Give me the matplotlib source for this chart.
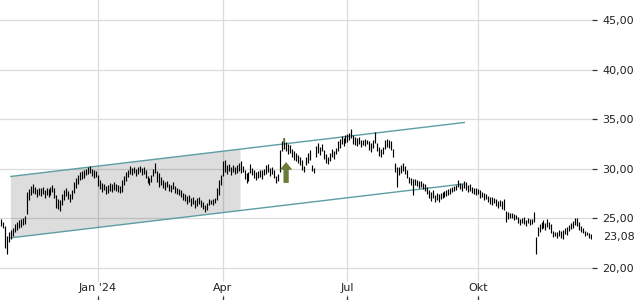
import numpy as np
import pandas as pd
import matplotlib
matplotlib.use("Agg")
import matplotlib.pyplot as plt
import matplotlib.transforms as mtransforms
from matplotlib.ticker import FuncFormatter

# ---------------- data ----------------
start_date = "2023-10-20"
holidays = ["2023-12-25", "2023-12-26", "2024-01-01", "2024-03-29", "2024-04-01",
            "2024-05-01", "2024-12-24", "2024-12-25", "2024-12-26", "2024-12-31"]

lows = [24.2, 24.0, 22.0, 21.4, 22.6, 22.9, 23.2, 23.6, 23.8, 24.0,
        24.1, 24.3, 24.4, 25.4, 26.8, 27.3, 27.5, 27.4, 27.1, 27.3,
        27.2, 27.4, 27.0, 27.3, 27.1, 27.3, 27.6, 27.0, 26.0, 25.9,
        25.7, 26.3, 26.8, 27.2, 26.9, 26.6, 26.9, 27.5, 28.0, 28.4,
        28.8, 28.9, 29.0, 29.3, 29.4, 29.5, 29.2, 29.0, 29.1, 28.2,
        27.9, 27.6, 27.8, 27.4, 27.5, 27.7, 27.6, 27.8, 27.7, 27.6,
        27.5, 27.6, 28.3, 28.7, 29.1, 29.4, 29.3, 29.5, 29.2, 29.4,
        29.6, 29.3, 29.4, 29.0, 28.5, 28.3, 28.6, 29.2, 29.5, 28.6,
        28.1, 28.3, 28.0, 27.8, 28.1, 27.7, 27.6, 27.9, 27.5, 27.4,
        27.3, 27.1, 26.8, 26.7, 26.4, 26.6, 26.2, 26.4, 26.0, 26.2,
        26.4, 26.1, 25.9, 25.6, 25.8, 26.3, 26.4, 26.3, 26.5, 26.8,
        27.3, 28.3, 29.2, 29.6, 29.4, 29.7, 29.3, 29.6, 29.4, 29.5,
        29.7, 29.5, 29.6, 28.9, 28.5, 28.7, 29.5, 29.3, 29.0, 28.8,
        29.0, 29.1, 28.9, 29.3, 29.4, 29.6, 29.2, 29.4, 29.0, 28.5,
        28.7, 29.6, 31.8, 32.0, 31.8, 31.5, 31.6, 31.2, 30.9, 30.8,
        30.6, 30.4, 29.8, 29.6, 30.4, 30.6, 30.9, 29.7, 29.5, 31.2,
        31.6, 31.4, 31.8, 31.0, 30.6, 30.5, 30.8, 31.2, 31.0, 31.5,
        31.8, 32.1, 32.5, 32.3, 32.6, 32.7, 32.9, 33.1, 32.5, 32.4,
        32.3, 32.5, 32.2, 32.4, 32.3, 32.5, 31.9, 31.7, 32.1, 32.6,
        31.8, 31.3, 31.2, 31.5, 32.0, 32.2, 32.1, 31.9, 31.2, 29.6,
        28.1, 29.3, 29.5, 29.7, 29.4, 29.0, 28.5, 28.3, 27.3, 28.3,
        28.2, 28.0, 28.1, 27.9, 27.7, 27.4, 27.0, 26.7, 27.0, 26.6,
        26.8, 26.6, 26.9, 27.0, 27.1, 27.2, 27.3, 27.4, 27.6, 27.7,
        27.8, 28.1, 27.9, 27.7, 28.0, 27.8, 27.6, 27.7, 27.5, 27.4,
        27.3, 27.4, 27.0, 27.1, 26.8, 26.9, 26.6, 26.4, 26.3, 26.5,
        26.2, 26.0, 26.2, 25.9, 25.8, 24.6, 24.9, 25.0, 25.0, 24.8,
        24.9, 24.5, 24.3, 24.5, 24.4, 24.2, 24.5, 24.3, 24.4, 24.6,
        21.4, 23.2, 23.6, 23.9, 24.0, 23.8, 24.1, 23.9, 23.5, 23.1,
        23.2, 23.0, 23.2, 23.0, 22.9, 23.4, 23.3, 23.7, 23.9, 24.0,
        24.3, 24.2, 23.8, 23.6, 23.5, 23.2, 23.3, 23.0, 22.9]

highs = [24.9, 24.6, 24.2, 23.2, 23.6, 23.8, 24.0, 24.4, 24.6, 24.8,
         24.9, 25.0, 25.2, 27.6, 27.9, 28.2, 28.4, 28.1, 27.9, 28.0,
         28.0, 28.1, 27.8, 28.0, 27.9, 28.1, 28.3, 28.0, 27.3, 26.9,
         26.8, 27.4, 27.8, 28.0, 27.7, 27.4, 27.8, 28.6, 29.0, 29.3,
         29.6, 29.7, 29.9, 30.0, 30.2, 30.3, 30.0, 29.8, 29.7, 29.3,
         28.8, 28.5, 28.4, 28.2, 28.3, 28.5, 28.4, 28.6, 28.4, 28.3,
         28.2, 28.8, 29.2, 29.6, 29.9, 30.3, 30.1, 30.2, 30.0, 30.2,
         30.3, 30.1, 30.2, 29.8, 29.2, 29.0, 29.3, 30.0, 30.6, 29.7,
         29.5, 29.1, 28.8, 28.6, 28.7, 28.4, 28.3, 28.6, 28.2, 28.0,
         27.9, 27.8, 27.5, 27.4, 27.2, 27.3, 27.0, 27.1, 26.8, 27.0,
         27.1, 26.8, 26.6, 26.3, 26.5, 26.9, 26.8, 26.9, 27.0, 28.0,
         28.8, 29.3, 30.8, 30.9, 30.4, 30.5, 30.2, 30.4, 30.2, 30.4,
         30.6, 30.8, 30.3, 29.8, 29.5, 29.6, 30.5, 30.1, 29.8, 29.6,
         29.7, 29.9, 29.8, 30.0, 30.4, 30.5, 30.1, 30.2, 29.8, 29.2,
         29.4, 31.9, 32.8, 33.1, 32.7, 32.5, 32.4, 32.0, 31.8, 31.6,
         31.4, 31.2, 30.9, 30.3, 31.2, 31.6, 31.9, 30.4, 30.1, 32.3,
         32.6, 32.2, 32.5, 31.9, 31.5, 31.2, 31.6, 32.0, 31.8, 32.1,
         32.8, 33.0, 33.3, 33.1, 33.4, 33.5, 33.6, 34.0, 33.4, 33.2,
         33.1, 33.2, 32.9, 32.9, 33.0, 32.9, 32.8, 32.6, 32.9, 33.7,
         32.6, 32.2, 32.0, 32.2, 32.9, 33.0, 32.9, 32.8, 32.0, 30.6,
         30.2, 30.2, 30.4, 30.6, 30.3, 29.9, 29.1, 29.0, 28.9, 28.9,
         28.8, 28.7, 28.7, 28.5, 28.4, 28.1, 27.8, 27.6, 27.8, 27.3,
         27.5, 27.4, 27.5, 27.6, 27.7, 27.8, 27.9, 28.0, 28.1, 28.2,
         28.3, 28.8, 28.5, 28.4, 28.7, 28.6, 28.3, 28.4, 28.1, 28.0,
         28.0, 27.9, 27.8, 27.6, 27.5, 27.4, 27.2, 27.1, 27.1, 27.0,
         26.9, 26.7, 26.8, 26.7, 26.9, 25.7, 25.6, 25.5, 25.5, 25.4,
         25.3, 25.1, 24.9, 25.0, 25.1, 24.8, 25.0, 24.9, 24.9, 25.6,
         23.1, 24.1, 24.4, 24.6, 24.8, 24.5, 24.9, 24.6, 24.4, 23.7,
         23.6, 23.6, 23.8, 23.7, 23.8, 24.0, 24.1, 24.3, 24.5, 24.7,
         25.0, 25.0, 24.6, 24.2, 24.0, 23.7, 23.6, 23.5, 23.4]

last_close = 23.08

# trend channel (start / end dates and prices)
channel_dates = ["2023-10-27", "2024-09-20"]
upper_channel = [29.2, 34.65]
lower_channel = [23.0, 28.45]
shade_end_date = "2024-04-15"

# buy signal
signal_date = "2024-05-16"
signal_arrow = [28.55, 30.65]
signal_tip_low = 32.6

month_ticks = ["2024-01-01", "2024-04-01", "2024-07-01", "2024-10-01"]
month_labels = ["Jan '24", "Apr", "Jul", "Okt"]
y_ticks = [20, 25, 30, 35, 40, 45]

# ---------------- plot ----------------
dates = pd.bdate_range(start_date, periods=len(lows), freq="C", holidays=holidays)
x = np.arange(len(dates))

def xpos(d):
    return dates.searchsorted(pd.Timestamp(d))

fig = plt.figure(figsize=(6.4, 3.0), dpi=100)
ax = fig.add_axes([0, 0, 592 / 640, 1])
ax.set_axisbelow(True)

ax.set_xlim(-0.5, len(dates) - 0.5)
ax.set_ylim(16.72, 47.02)

for s in ax.spines.values():
    s.set_visible(False)

ax.grid(True, color="#dcdcdc", lw=0.9)

# channel
cx = [xpos(d) for d in channel_dates]
sx = xpos(shade_end_date)
up_s = np.interp(sx, cx, upper_channel)
lo_s = np.interp(sx, cx, lower_channel)
ax.fill([cx[0], sx, sx, cx[0]], [upper_channel[0], up_s, lo_s, lower_channel[0]],
        color="black", alpha=0.135, lw=0, zorder=1)
ax.plot(cx, upper_channel, color="#5c9ea3", lw=1.0, zorder=3)
ax.plot(cx, lower_channel, color="#5c9ea3", lw=1.0, zorder=3)

# bars
ax.vlines(x, lows, highs, color="black", lw=0.85, zorder=4)

# signal
si = xpos(signal_date)
olive = "#6b7c3a"
ax.vlines([si], [signal_tip_low], [highs[si]], color=olive, lw=1.2, zorder=5)
ax.annotate("", xy=(si + 1, signal_arrow[1]), xytext=(si + 1, signal_arrow[0]),
            arrowprops=dict(arrowstyle="simple,head_length=0.55,head_width=0.9,tail_width=0.38",
                            mutation_scale=10, color=olive, shrinkA=0, shrinkB=0, lw=0),
            zorder=5)

# axes ticks
ax.yaxis.tick_right()
ax.set_yticks(y_ticks)
ax.yaxis.set_major_formatter(FuncFormatter(lambda v, p: f"{v:.2f}".replace(".", ",")))
ax.tick_params(axis="y", length=3.5, width=0.9, color="#333333", pad=4,
               labelsize=8, labelcolor="#222222")

ax.set_xticks([xpos(d) for d in month_ticks], month_labels)
ax.tick_params(axis="x", direction="in", length=3, width=0.9, color="#333333",
               pad=-12, labelsize=8, labelcolor="#222222")
for lbl in ax.get_xticklabels():
    lbl.set_bbox(dict(facecolor="white", edgecolor="none", pad=1.0))

trans = mtransforms.blended_transform_factory(ax.transAxes, ax.transData)
ax.text(603 / 592, last_close, f"{last_close:.2f}".replace(".", ","), transform=trans,
        ha="left", va="center", fontsize=8, color="#222222")

fig.savefig("out.png", dpi=100)
